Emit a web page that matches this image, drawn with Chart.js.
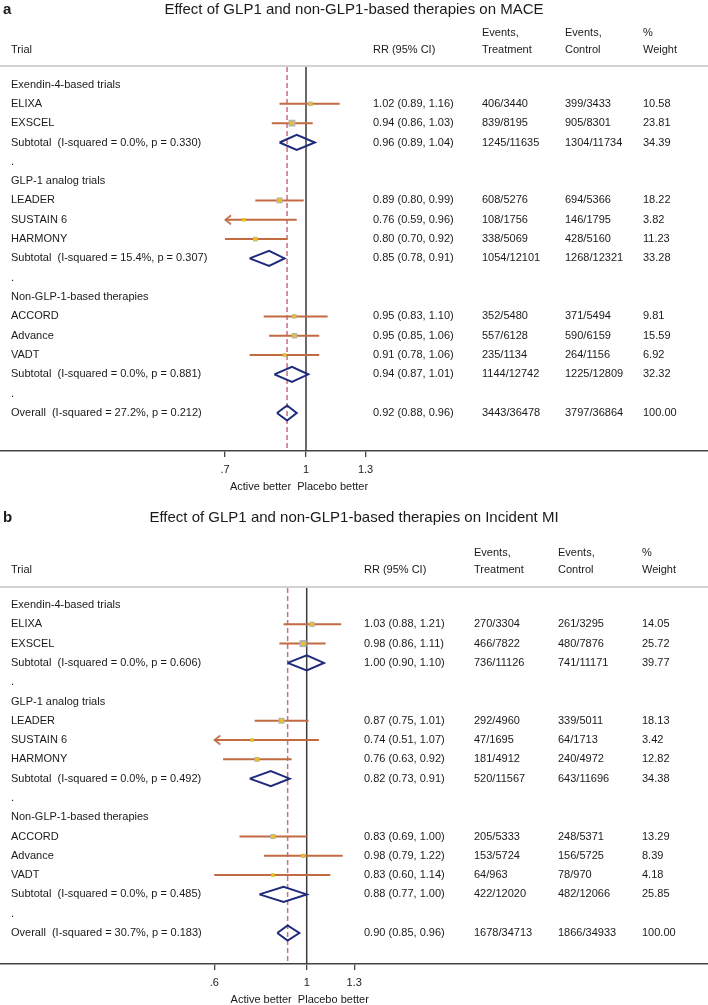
<!DOCTYPE html>
<html>
<head>
<meta charset="utf-8">
<script src="https://cdn.jsdelivr.net/npm/chart.js@4.4.0/dist/chart.umd.min.js"></script>
<style>
  body { margin: 0; background: #fff; }
  #wrap { position: relative; width: 708px; height: 1005px; }
  .panel { position: absolute; left: 0; width: 708px; }
</style>
</head>
<body>
<div id="wrap">
  <div class="panel" style="top:0;height:508px"><canvas id="forest-a"></canvas></div>
  <div class="panel" style="top:508px;height:497px"><canvas id="forest-b"></canvas></div>
</div>
<script>
// rows shared by both panels
var groups = ['Exendin-4-based trials', 'GLP-1 analog trials', 'Non-GLP-1-based therapies'];
var trials = ['ELIXA', 'EXSCEL', 'LEADER', 'SUSTAIN 6', 'HARMONY', 'ACCORD', 'Advance', 'VADT'];
var trialGroup = [0, 0, 1, 1, 1, 2, 2, 2];

// a - MACE
var a_rr = [1.02, 0.94, 0.89, 0.76, 0.80, 0.95, 0.95, 0.91];
var a_lo = [0.89, 0.86, 0.80, 0.59, 0.70, 0.83, 0.85, 0.78];
var a_hi = [1.16, 1.03, 0.99, 0.96, 0.92, 1.10, 1.06, 1.06];
var a_evT = ['406/3440', '839/8195', '608/5276', '108/1756', '338/5069', '352/5480', '557/6128', '235/1134'];
var a_evC = ['399/3433', '905/8301', '694/5366', '146/1795', '428/5160', '371/5494', '590/6159', '264/1156'];
var a_wt = [10.58, 23.81, 18.22, 3.82, 11.23, 9.81, 15.59, 6.92];
// subtotals 1-3, then overall
var a_sRr = [0.96, 0.85, 0.94, 0.92];
var a_sLo = [0.89, 0.78, 0.87, 0.88];
var a_sHi = [1.04, 0.91, 1.01, 0.96];
var a_sI2 = ['0.0%', '15.4%', '0.0%', '27.2%'];
var a_sP = ['0.330', '0.307', '0.881', '0.212'];
var a_sEvT = ['1245/11635', '1054/12101', '1144/12742', '3443/36478'];
var a_sEvC = ['1304/11734', '1268/12321', '1225/12809', '3797/36864'];
var a_sWt = [34.39, 33.28, 32.32, 100.00];
var a_ticks = [0.7, 1, 1.3];
var a_tickLabels = ['.7', '1', '1.3'];

// b - Incident MI
var b_rr = [1.03, 0.98, 0.87, 0.74, 0.76, 0.83, 0.98, 0.83];
var b_lo = [0.88, 0.86, 0.75, 0.51, 0.63, 0.69, 0.79, 0.60];
var b_hi = [1.21, 1.11, 1.01, 1.07, 0.92, 1.00, 1.22, 1.14];
var b_evT = ['270/3304', '466/7822', '292/4960', '47/1695', '181/4912', '205/5333', '153/5724', '64/963'];
var b_evC = ['261/3295', '480/7876', '339/5011', '64/1713', '240/4972', '248/5371', '156/5725', '78/970'];
var b_wt = [14.05, 25.72, 18.13, 3.42, 12.82, 13.29, 8.39, 4.18];
var b_sRr = [1.00, 0.82, 0.88, 0.90];
var b_sLo = [0.90, 0.73, 0.77, 0.85];
var b_sHi = [1.10, 0.91, 1.00, 0.96];
var b_sI2 = ['0.0%', '0.0%', '0.0%', '30.7%'];
var b_sP = ['0.606', '0.492', '0.485', '0.183'];
var b_sEvT = ['736/11126', '520/11567', '422/12020', '1678/34713'];
var b_sEvC = ['741/11171', '643/11696', '482/12066', '1866/34933'];
var b_sWt = [39.77, 34.38, 25.85, 100.00];
var b_ticks = [0.6, 1, 1.3];
var b_tickLabels = ['.6', '1', '1.3'];

var FONT = "'Liberation Sans', Arial, Helvetica, sans-serif";
var CI_COL = '#c26a42';
var DIA_COL = '#1f2a7c';
var BOX_K = 1.4;     // box side = BOX_K * sqrt(weight)
var DIA_H = 0.39;    // diamond half height in rows
var AXIS_H = 31.2;   // height chart.js gives the x axis (ticks + labels)

function buildRows() {
  var rows = [];
  for (var g = 0; g < 3; g++) {
    rows.push({kind: 'group', g: g});
    trials.forEach(function (t, i) { if (trialGroup[i] === g) rows.push({kind: 'trial', i: i}); });
    rows.push({kind: 'sub', i: g});
    rows.push({kind: 'dot'});
  }
  rows.push({kind: 'sub', i: 3});
  return rows;
}

function arrowImg(color) {
  var c = document.createElement('canvas');
  c.width = 16; c.height = 12;
  var g = c.getContext('2d');
  g.strokeStyle = color; g.lineWidth = 1.6;
  g.beginPath(); g.moveTo(14, 1.5); g.lineTo(8.3, 6); g.lineTo(14, 10.5); g.stroke();
  return c;
}

function rrText(r, l, h) {
  return r.toFixed(2) + ' (' + l.toFixed(2) + ', ' + h.toFixed(2) + ')';
}

function forest(id, P, L) {
  var rows = buildRows();
  var sp = (L.last - L.first) / (rows.length - 1);
  var yMin = -(L.first - L.sep) / sp;
  var yMax = yMin + (L.axis - L.sep) / sp;
  var tmin = P.ticks[0];
  var ci = [], box = [], boxR = [], mark = [], arrow = [], dia = [];
  rows.forEach(function (row, r) {
    if (row.kind === 'trial') {
      var i = row.i;
      ci.push({x: Math.max(P.lo[i], tmin), y: r}, {x: P.hi[i], y: r}, {x: P.hi[i], y: null});
      box.push({x: P.rr[i], y: r});
      boxR.push(BOX_K * Math.sqrt(P.wt[i]) / Math.SQRT2);
      mark.push({x: P.rr[i], y: r});
      if (P.lo[i] < tmin) arrow.push({x: tmin, y: r});
    } else if (row.kind === 'sub') {
      var j = row.i;
      dia.push({x: P.sLo[j], y: r}, {x: P.sRr[j], y: r - DIA_H}, {x: P.sHi[j], y: r},
               {x: P.sRr[j], y: r + DIA_H}, {x: P.sLo[j], y: r}, {x: P.sLo[j], y: null});
    }
  });
  var overall = P.sRr[3];

  var textPlugin = {
    id: 'forestText',
    afterDraw: function (chart) {
      var ctx = chart.ctx, ys = chart.scales.y, xs = chart.scales.x;
      ctx.save();
      // header rule
      ctx.strokeStyle = '#d2d2d2'; ctx.lineWidth = 2;
      ctx.beginPath(); ctx.moveTo(0, L.sep - 1); ctx.lineTo(708, L.sep - 1); ctx.stroke();

      ctx.fillStyle = '#1a1a1a';
      ctx.textBaseline = 'middle';
      ctx.textAlign = 'left';
      ctx.font = 'bold 15px ' + FONT;
      ctx.fillText(P.letter, 3, L.title);
      ctx.font = '15px ' + FONT;
      ctx.textAlign = 'center';
      ctx.fillText(P.title, 354, L.title);

      ctx.textAlign = 'left';
      ctx.font = '11px ' + FONT;
      ctx.fillText('Trial', L.cL, L.head);
      ctx.fillText('RR (95% CI)', L.cRR, L.head);
      ctx.fillText('Events,', L.cT, L.head2);
      ctx.fillText('Treatment', L.cT, L.head);
      ctx.fillText('Events,', L.cC, L.head2);
      ctx.fillText('Control', L.cC, L.head);
      ctx.fillText('%', L.cW, L.head2);
      ctx.fillText('Weight', L.cW, L.head);

      rows.forEach(function (row, r) {
        var y = ys.getPixelForValue(r);
        if (row.kind === 'group') {
          ctx.fillText(groups[row.g], L.cL, y);
        } else if (row.kind === 'dot') {
          ctx.fillText('.', L.cL, y);
        } else if (row.kind === 'trial') {
          var i = row.i;
          ctx.fillText(trials[i], L.cL, y);
          ctx.fillText(rrText(P.rr[i], P.lo[i], P.hi[i]), L.cRR, y);
          ctx.fillText(P.evT[i], L.cT, y);
          ctx.fillText(P.evC[i], L.cC, y);
          ctx.fillText(P.wt[i].toFixed(2), L.cW, y);
        } else {
          var j = row.i;
          ctx.fillText((j < 3 ? 'Subtotal' : 'Overall') + '  (I-squared = ' + P.sI2[j] + ', p = ' + P.sP[j] + ')', L.cL, y);
          ctx.fillText(rrText(P.sRr[j], P.sLo[j], P.sHi[j]), L.cRR, y);
          ctx.fillText(P.sEvT[j], L.cT, y);
          ctx.fillText(P.sEvC[j], L.cC, y);
          ctx.fillText(P.sWt[j].toFixed(2), L.cW, y);
        }
      });

      ctx.textAlign = 'center';
      ctx.fillText('Active better  Placebo better', xs.getPixelForValue(1) - 7, L.xtitle);
      ctx.restore();
    }
  };

  var cv = document.getElementById(id).getContext('2d');
  return new Chart(cv, {
    type: 'scatter',
    data: {
      datasets: [
        {type: 'line', data: [{x: 1, y: yMin}, {x: 1, y: yMax}], borderColor: '#3a3a3a', borderWidth: 1.5, pointRadius: 0, order: 6},
        {type: 'line', data: [{x: overall, y: yMin}, {x: overall, y: yMax}], borderColor: '#c9707f', borderWidth: 1.5, borderDash: [5, 3], pointRadius: 0, order: 5},
        {type: 'line', data: ci, borderColor: CI_COL, borderWidth: 2, pointRadius: 0, order: 4},
        {type: 'scatter', data: box, pointStyle: 'rect', pointRadius: boxR, backgroundColor: '#b4b4b4', borderWidth: 0, order: 3},
        {type: 'scatter', data: mark, pointStyle: 'rect', pointRadius: 2.5, backgroundColor: '#e8c21e', borderWidth: 0, order: 2},
        {type: 'scatter', data: arrow, pointStyle: arrowImg(CI_COL), pointRadius: 4, order: 2},
        {type: 'line', data: dia, borderColor: DIA_COL, borderWidth: 2, pointRadius: 0, fill: false, order: 1}
      ]
    },
    options: {
      responsive: true,
      maintainAspectRatio: false,
      animation: false,
      events: [],
      layout: {autoPadding: false, padding: {top: L.sep, bottom: L.height - L.axis - AXIS_H, left: 0, right: 0}},
      plugins: {legend: {display: false}, tooltip: {enabled: false}},
      scales: {
        x: {
          type: 'logarithmic',
          min: Math.exp(-L.one / L.ppl),
          max: Math.exp((708 - L.one) / L.ppl),
          afterBuildTicks: function (s) { s.ticks = P.ticks.map(function (v) { return {value: v}; }); },
          ticks: {
            autoSkip: false, maxRotation: 0, padding: 6, color: '#1a1a1a',
            font: {family: FONT, size: 11},
            callback: function (v, i) { return P.tickLabels[i]; }
          },
          grid: {drawOnChartArea: false, drawTicks: true, tickLength: 6, color: '#444', lineWidth: 1.3},
          border: {display: true, color: '#444', width: 1.5}
        },
        y: {type: 'linear', display: false, reverse: true, min: yMin, max: yMax}
      }
    },
    plugins: [textPlugin]
  });
}

forest('forest-a', {
  letter: 'a', title: 'Effect of GLP1 and non-GLP1-based therapies on MACE',
  rr: a_rr, lo: a_lo, hi: a_hi, evT: a_evT, evC: a_evC, wt: a_wt,
  sRr: a_sRr, sLo: a_sLo, sHi: a_sHi, sI2: a_sI2, sP: a_sP, sEvT: a_sEvT, sEvC: a_sEvC, sWt: a_sWt,
  ticks: a_ticks, tickLabels: a_tickLabels
}, {
  height: 508, title: 10, head2: 33, head: 50, sep: 67, first: 84.5, last: 413, axis: 451, xtitle: 487,
  one: 306, ppl: 227, cL: 11, cRR: 373, cT: 482, cC: 565, cW: 643
});

forest('forest-b', {
  letter: 'b', title: 'Effect of GLP1 and non-GLP1-based therapies on Incident MI',
  rr: b_rr, lo: b_lo, hi: b_hi, evT: b_evT, evC: b_evC, wt: b_wt,
  sRr: b_sRr, sLo: b_sLo, sHi: b_sHi, sI2: b_sI2, sP: b_sP, sEvT: b_sEvT, sEvC: b_sEvC, sWt: b_sWt,
  ticks: b_ticks, tickLabels: b_tickLabels
}, {
  height: 497, title: 10, head2: 45, head: 62, sep: 80, first: 97, last: 425, axis: 456, xtitle: 492,
  one: 306.7, ppl: 181, cL: 11, cRR: 364, cT: 474, cC: 558, cW: 642
});
</script>
</body>
</html>
